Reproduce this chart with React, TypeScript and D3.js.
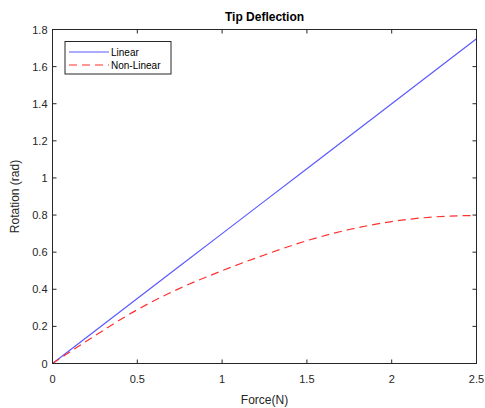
import React from "react";
import * as d3 from "d3";

// Force values (N) and resulting tip rotation (rad)
const force = [0, 0.25, 0.5, 0.75, 1.0, 1.25, 1.5, 1.75, 2.0, 2.25, 2.5];
const linearRotation = [0, 0.175, 0.35, 0.525, 0.7, 0.875, 1.05, 1.225, 1.4, 1.575, 1.75];
const nonLinearRotation = [0, 0.15, 0.29, 0.405, 0.5, 0.585, 0.662, 0.722, 0.765, 0.79, 0.798];

const xTicks = [0, 0.5, 1, 1.5, 2, 2.5];
const yTicks = [0, 0.2, 0.4, 0.6, 0.8, 1, 1.2, 1.4, 1.6, 1.8];

const W = 485;
const H = 408;
const M = { left: 52.5, right: 476.5, top: 29.5, bottom: 363.5 };
const FONT = "'Liberation Sans', Arial, Helvetica, sans-serif";
const AX = "#262626";

export default function App() {
  const x = d3.scaleLinear().domain([0, 2.5]).range([M.left, M.right]);
  const y = d3.scaleLinear().domain([0, 1.8]).range([M.bottom, M.top]);

  const line = d3
    .line<number>()
    .x((_, i) => x(force[i]))
    .y((d) => y(d));
  const curve = d3
    .line<number>()
    .x((_, i) => x(force[i]))
    .y((d) => y(d))
    .curve(d3.curveMonotoneX);

  const tl = 4;

  return (
    <svg
      width={W}
      height={H}
      style={{ position: "absolute", left: 0, top: 0, background: "#fff" }}
      fontFamily={FONT}
    >
      <rect x={0} y={0} width={W} height={H} fill="#fff" />
      <rect
        x={M.left}
        y={M.top}
        width={M.right - M.left}
        height={M.bottom - M.top}
        fill="#fff"
      />

      {/* data series */}
      <path d={line(linearRotation) ?? ""} fill="none" stroke="#5a5aff" strokeWidth={1.2} />
      <path
        d={curve(nonLinearRotation) ?? ""}
        fill="none"
        stroke="#ff3030"
        strokeWidth={1.2}
        strokeDasharray="8,5"
      />

      {/* axes box */}
      <rect
        x={M.left}
        y={M.top}
        width={M.right - M.left}
        height={M.bottom - M.top}
        fill="none"
        stroke={AX}
        strokeWidth={1}
      />

      {/* x ticks */}
      {xTicks.map((t) => (
        <g key={"x" + t}>
          <line x1={x(t)} x2={x(t)} y1={M.bottom} y2={M.bottom - tl} stroke={AX} />
          <line x1={x(t)} x2={x(t)} y1={M.top} y2={M.top + tl} stroke={AX} />
          <text
            x={x(t)}
            y={M.bottom + 19}
            textAnchor="middle"
            fontSize={11}
            fill={AX}
          >
            {t}
          </text>
        </g>
      ))}

      {/* y ticks */}
      {yTicks.map((t) => (
        <g key={"y" + t}>
          <line x1={M.left} x2={M.left + tl} y1={y(t)} y2={y(t)} stroke={AX} />
          <line x1={M.right} x2={M.right - tl} y1={y(t)} y2={y(t)} stroke={AX} />
          <text
            x={M.left - 5}
            y={y(t) + 4}
            textAnchor="end"
            fontSize={11}
            fill={AX}
          >
            {t}
          </text>
        </g>
      ))}

      {/* labels */}
      <text
        x={(M.left + M.right) / 2}
        y={21}
        textAnchor="middle"
        fontSize={12}
        fontWeight="bold"
        fill="#000"
      >
        Tip Deflection
      </text>
      <text
        x={(M.left + M.right) / 2}
        y={404}
        textAnchor="middle"
        fontSize={12}
        fill={AX}
      >
        Force(N)
      </text>
      <text
        transform={`translate(19, ${(M.top + M.bottom) / 2}) rotate(-90)`}
        textAnchor="middle"
        fontSize={12}
        fill={AX}
      >
        Rotation (rad)
      </text>

      {/* legend */}
      <g>
        <rect x={65} y={41.5} width={106} height={32.5} fill="#fff" stroke={AX} strokeWidth={1} />
        <line x1={69} x2={109} y1={52} y2={52} stroke="#5a5aff" strokeWidth={1.2} />
        <text x={111} y={56} fontSize={10} fill="#000">
          Linear
        </text>
        <line
          x1={69}
          x2={109}
          y1={65}
          y2={65}
          stroke="#ff3030"
          strokeWidth={1.2}
          strokeDasharray="8,5"
        />
        <text x={111} y={69} fontSize={10} fill="#000">
          Non-Linear
        </text>
      </g>
    </svg>
  );
}
